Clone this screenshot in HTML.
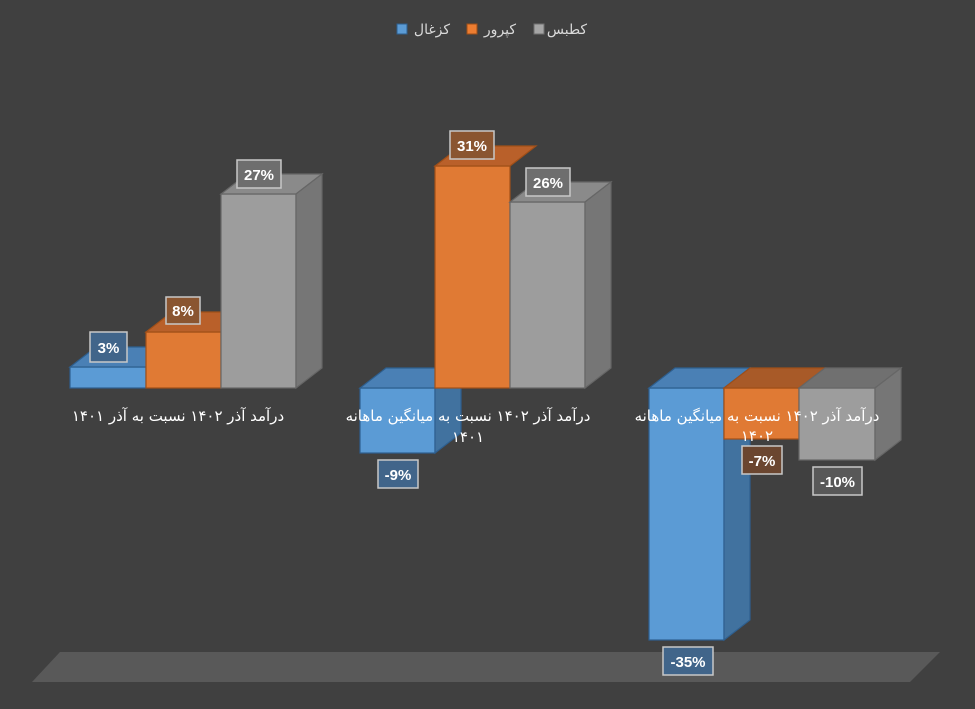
<!DOCTYPE html>
<html><head><meta charset="utf-8"><style>
html,body{margin:0;padding:0;background:#404040;}
svg{display:block}
text{font-family:"Liberation Sans","DejaVu Sans",sans-serif;}
.l{fill:#fff;font-weight:bold;font-size:15px;text-anchor:middle}
.c{fill:#fff;font-size:15px;text-anchor:middle;font-family:"DejaVu Sans","Liberation Sans",sans-serif}
.bx{stroke:#c8c8c8;stroke-width:1.5}
</style></head><body>
<svg width="975" height="709" viewBox="0 0 975 709">
<rect width="975" height="709" fill="#404040"/>
<polygon points="32,682 60,652 940,652 910,682" fill="#595959"/>
<rect x="397" y="24" width="10" height="10" fill="#5b9bd5" stroke="#2e5f8f"/>
<text x="432" y="34" fill="#d9d9d9" font-size="14" text-anchor="middle" font-family="DejaVu Sans,sans-serif">کزغال</text>
<rect x="467" y="24" width="10" height="10" fill="#ed7d31" stroke="#a04f18"/>
<text x="500" y="34" fill="#d9d9d9" font-size="14" text-anchor="middle" font-family="DejaVu Sans,sans-serif">کپرور</text>
<rect x="534" y="24" width="10" height="10" fill="#a5a5a5" stroke="#6f6f6f"/>
<text x="567" y="34" fill="#d9d9d9" font-size="14" text-anchor="middle" font-family="DejaVu Sans,sans-serif">کطبس</text>

<g stroke-width="1.2">
<rect x="70" y="367" width="76" height="21" fill="#5b9bd5" stroke="#2e5f8f"/>
<polygon points="70,367 146,367 172,347 96,347" fill="#4a80b5" stroke="#2e5f8f"/>
<rect x="146" y="332" width="75" height="56" fill="#e07a34" stroke="#a04f18"/>
<polygon points="146,332 221,332 247,312 172,312" fill="#b9602a" stroke="#a04f18"/>
<rect x="221" y="194" width="75" height="194" fill="#9d9d9d" stroke="#666"/>
<polygon points="221,194 296,194 322,174 247,174" fill="#8a8a8a" stroke="#666"/>
<polygon points="296,194 322,174 322,368 296,388" fill="#767676" stroke="#666"/>
</g>
<g stroke-width="1.2">
<rect x="360" y="388" width="75" height="65" fill="#5b9bd5" stroke="#2e5f8f"/>
<polygon points="360,388 435,388 461,368 386,368" fill="#4a80b5" stroke="#2e5f8f"/>
<polygon points="435,388 461,368 461,433 435,453" fill="#41729f" stroke="#2e5f8f"/>
<rect x="435" y="166" width="75" height="222" fill="#e07a34" stroke="#a04f18"/>
<polygon points="435,166 510,166 536,146 461,146" fill="#b9602a" stroke="#a04f18"/>
<rect x="510" y="202" width="75" height="186" fill="#9d9d9d" stroke="#666"/>
<polygon points="510,202 585,202 611,182 536,182" fill="#8a8a8a" stroke="#666"/>
<polygon points="585,202 611,182 611,368 585,388" fill="#767676" stroke="#666"/>
</g>
<g stroke-width="1.2">
<rect x="649" y="388" width="75" height="252" fill="#5b9bd5" stroke="#2e5f8f"/>
<polygon points="649,388 724,388 750,368 675,368" fill="#4a80b5" stroke="#2e5f8f"/>
<polygon points="724,388 750,368 750,620 724,640" fill="#41729f" stroke="#2e5f8f"/>
<rect x="724" y="388" width="75" height="51" fill="#e07a34" stroke="#a04f18"/>
<polygon points="724,388 799,388 825,368 750,368" fill="#a85a28" stroke="#a04f18"/>
<rect x="799" y="388" width="76" height="72" fill="#9d9d9d" stroke="#666"/>
<polygon points="799,388 875,388 901,368 825,368" fill="#707070" stroke="#666"/>
<polygon points="875,388 901,368 901,440 875,460" fill="#767676" stroke="#666"/>
</g>

<text class="c" x="178" y="421" direction="rtl">درآمد آذر ۱۴۰۲ نسبت به آذر ۱۴۰۱</text>
<text class="c" x="468" y="421" direction="rtl">درآمد آذر ۱۴۰۲ نسبت به میانگین ماهانه</text>
<text class="c" x="468" y="442" direction="rtl">۱۴۰۱</text>
<text class="c" x="757" y="421" direction="rtl">درآمد آذر ۱۴۰۲ نسبت به میانگین ماهانه</text>
<text class="c" x="757" y="441" direction="rtl">۱۴۰۲</text>

<rect class="bx" x="90" y="332" width="37" height="30" fill="#41658a"/><text class="l" x="108.5" y="353">3%</text>
<rect class="bx" x="166" y="297" width="34" height="27" fill="#8a5530"/><text class="l" x="183" y="316">8%</text>
<rect class="bx" x="237" y="160" width="44" height="28" fill="#6e6e6e"/><text class="l" x="259" y="180">27%</text>
<rect class="bx" x="450" y="131" width="44" height="28" fill="#8a5530"/><text class="l" x="472" y="151">31%</text>
<rect class="bx" x="526" y="168" width="44" height="28" fill="#6e6e6e"/><text class="l" x="548" y="188">26%</text>
<rect class="bx" x="378" y="460" width="40" height="28" fill="#41658a"/><text class="l" x="398" y="480">-9%</text>
<rect class="bx" x="663" y="647" width="50" height="28" fill="#41658a"/><text class="l" x="688" y="667">-35%</text>
<rect class="bx" x="742" y="446" width="40" height="28" fill="#6b4630"/><text class="l" x="762" y="466">-7%</text>
<rect class="bx" x="813" y="467" width="49" height="28" fill="#585858"/><text class="l" x="837.5" y="487">-10%</text>
</svg>
</body></html>
